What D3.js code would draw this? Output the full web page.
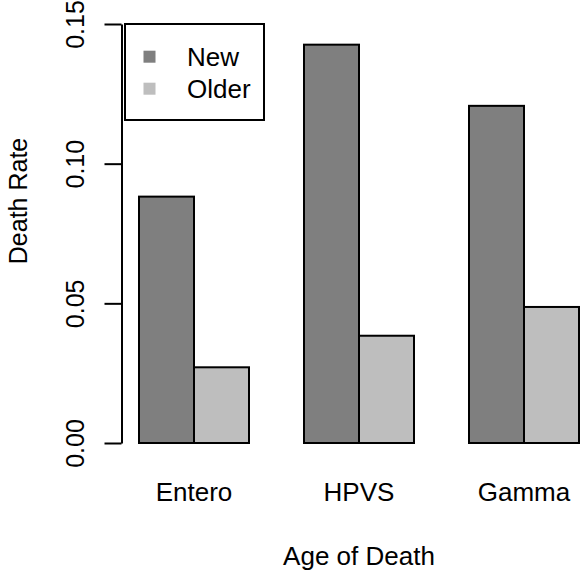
<!DOCTYPE html>
<html>
<head>
<meta charset="utf-8">
<script src="https://cdn.jsdelivr.net/npm/d3@7"></script>
<style>
  html, body { margin: 0; padding: 0; background: #fff; }
  svg { display: block; font-family: "Liberation Sans", Arial, sans-serif; }
</style>
</head>
<body>
<div id="chart"></div>
<script>
const categories = ["Entero", "HPVS", "Gamma"];
const seriesNames = ["New", "Older"];
const newValues = [0.0882, 0.1426, 0.1207];
const olderValues = [0.0271, 0.0384, 0.0487];
const yTicks = [0, 0.05, 0.10, 0.15];
const colors = ["#7f7f7f", "#bebebe"];

const W = 580, H = 571;
const svg = d3.select("#chart").append("svg").attr("width", W).attr("height", H);

const y = d3.scaleLinear().domain([0, 0.15]).range([443, 24]);
const x0 = d3.scaleBand().domain(categories).range([139, 579]).paddingInner(1/3).paddingOuter(0);
const x1 = d3.scaleBand().domain(seriesNames).range([0, x0.bandwidth()]);

const data = categories.map((c, i) => ({ cat: c, vals: [
  { s: "New", v: newValues[i] }, { s: "Older", v: olderValues[i] } ] }));

const g = svg.selectAll("g.grp").data(data).enter().append("g")
  .attr("transform", d => `translate(${x0(d.cat)},0)`);
g.selectAll("rect").data(d => d.vals).enter().append("rect")
  .attr("x", d => x1(d.s))
  .attr("width", x1.bandwidth())
  .attr("y", d => y(d.v))
  .attr("height", d => y(0) - y(d.v))
  .attr("fill", (d, i) => colors[i])
  .attr("stroke", "#000").attr("stroke-width", 2);

// Y axis
const axisX = 121.5;
const ax = svg.append("g").attr("transform", `translate(${axisX},0)`)
  .call(d3.axisLeft(y).tickValues(yTicks).tickFormat(d3.format(".2f")).tickSize(17).tickSizeOuter(0));
ax.select(".domain").attr("stroke-width", 2);
ax.selectAll(".tick line").attr("stroke-width", 2);
ax.selectAll(".tick text")
  .attr("x", null).attr("dy", null)
  .attr("transform", "translate(-38,0) rotate(-90)")
  .attr("text-anchor", "middle")
  .attr("font-size", 25).attr("fill", "#000")
  .attr("font-family", "Liberation Sans, Arial, sans-serif");

// Category labels
svg.selectAll("text.cat").data(categories).enter().append("text")
  .attr("class", "cat")
  .attr("x", d => x0(d) + x0.bandwidth() / 2)
  .attr("y", 501)
  .attr("text-anchor", "middle")
  .attr("font-size", 26)
  .text(d => d);

// Axis titles
svg.append("text").attr("x", 359).attr("y", 565).attr("text-anchor", "middle")
  .attr("font-size", 26).text("Age of Death");
svg.append("text").attr("transform", "translate(27,201) rotate(-90)")
  .attr("text-anchor", "middle").attr("font-size", 25).text("Death Rate");

// Legend
const leg = svg.append("g");
leg.append("rect").attr("x", 125).attr("y", 24).attr("width", 139).attr("height", 96)
  .attr("fill", "#fff").attr("stroke", "#000").attr("stroke-width", 2);
seriesNames.forEach((s, i) => {
  const cy = 56.7 + i * 32;
  leg.append("rect").attr("x", 143.5).attr("y", cy - 6).attr("width", 12).attr("height", 12)
    .attr("fill", colors[i]);
  leg.append("text").attr("x", 187).attr("y", cy + 9).attr("font-size", 26).text(s);
});
</script>
</body>
</html>
